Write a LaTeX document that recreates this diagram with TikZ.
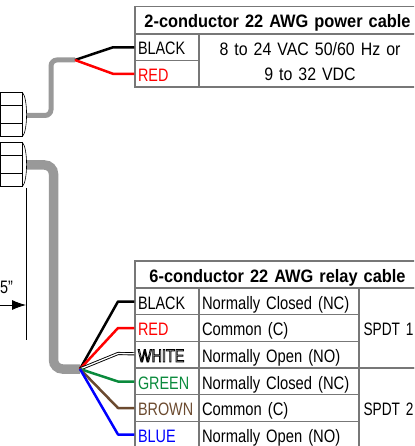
\documentclass[tikz,border=0pt]{standalone}
\usepackage{fontspec}
\setmainfont[FakeStretch=0.8, WordSpace=0.8, BoldFeatures={FakeStretch=0.91}]{Liberation Sans}
\usetikzlibrary{arrows.meta}
\definecolor{framegray}{HTML}{777777}
\definecolor{cablegray}{HTML}{999999}
\definecolor{wiregreen}{HTML}{0A8A3C}
\definecolor{wirebrown}{HTML}{6B4A2F}
\newcommand{\outlined}[1]{\special{pdf:code 1 1 1 rg 0 0 0 RG 0.8 w 2 Tr}#1\special{pdf:code 0 Tr 0 0 0 rg 0 0 0 RG}}

\begin{document}
\begin{tikzpicture}
	[x=1pt, y=-1pt,
	cell/.style ={rectangle, draw=framegray, line width=1.3pt, inner xsep=3pt, inner ysep=0pt, text height=15pt, text depth=0pt, font=\fontsize{18}{24.5}\selectfont, align=left},
	head/.style ={cell, text width=279pt, minimum height=27pt, align=center, font=\fontsize{18}{20}\selectfont\bfseries},
	wirename/.style ={cell, text width=58pt, minimum height=26.5pt},
	signal/.style ={cell, text width=154pt, minimum height=26.5pt, font=\fontsize{18}{24.5}\selectfont\addfontfeature{FakeStretch=0.82}},
	volts/.style ={cell, text width=215pt, text depth=24pt, minimum height=53pt, align=center, font=\fontsize{18}{24.5}\selectfont\addfontfeature{FakeStretch=0.885}},
	relay/.style ={cell, inner xsep=4.5pt, text width=52pt, minimum height=80pt, font=\fontsize{18}{24.5}\selectfont\addfontfeature{FakeStretch=0.76}},
	gland/.style ={rectangle, draw, semithick, minimum width=22pt, minimum height=44pt, inner sep=0pt},
	cable/.style ={draw=cablegray, rounded corners=6pt},
	wire/.style ={line width=2.5pt, line join=round}]
	\clip (0, 0) rectangle (414, 446);
	% power cable table
	\draw (277.5, 20) node[head] (powerhead) {2-conductor 22 AWG power cable};
	\draw (167, 47.3) node[wirename] (pblack) {BLACK};
	\draw (167, 73.8) node[wirename, text=red] (pred) {RED};
	\draw (310, 60.5) node[volts] (pvolts) {8 to 24 VAC 50/60 Hz or\\9 to 32 VDC};
	% relay cable table
	\draw (277.5, 274.5) node[head] (relayhead) {6-conductor 22 AWG relay cable};
	\draw (167, 301.5) node[wirename] (rblack) {BLACK};
	\draw (167, 328) node[wirename, text=red] (rred) {RED};
	\draw (167, 354.5) node[wirename] (rwhite) {\outlined{WHITE}};
	\draw (167, 381.5) node[wirename, text=wiregreen] (rgreen) {GREEN};
	\draw (167, 408) node[wirename, text=wirebrown] (rbrown) {BROWN};
	\draw (167, 434.5) node[wirename, text=blue] (rblue) {BLUE};
	\draw (279, 301.5) node[signal] (nc1) {Normally Closed (NC)};
	\draw (279, 328) node[signal] (com1) {Common (C)};
	\draw (279, 354.5) node[signal] (no1) {Normally Open (NO)};
	\draw (279, 381.5) node[signal] (nc2) {Normally Closed (NC)};
	\draw (279, 408) node[signal] (com2) {Common (C)};
	\draw (279, 434.5) node[signal] (no2) {Normally Open (NO)};
	\draw (389.5, 328) node[relay] (spdt1) {\mbox{SPDT 1}};
	\draw (389.5, 408) node[relay] (spdt2) {\mbox{SPDT 2}};
	% glands
	\draw (11, 114.5) node[gland] (gland1) {};
	\draw (11, 164.5) node[gland] (gland2) {};
	\draw[semithick] (gland1.north east) .. controls (28, 98) and (28, 131) .. (gland1.south east);
	\draw[semithick] (gland2.north east) .. controls (28, 148) and (28, 181) .. (gland2.south east);
	\draw[semithick] (0, 105) -- (22, 105);
	\draw[semithick] (0, 123) -- (22, 123);
	\draw[semithick] (0, 155) -- (22, 155);
	\draw[semithick] (0, 173) -- (22, 173);
	% cables
	\coordinate (end1) at (27, 115.5);
	\coordinate (end2) at (27, 165);
	\coordinate (fan1) at (75, 60);
	\coordinate (fan2) at (80, 369);
	\draw[cable, line width=5pt] (end1) -- (51, 115.5) -- (51, 60) -- (fan1);
	\draw[cable, line width=9.5pt, rounded corners=9pt] (end2) -- (53.5, 165) -- (53.5, 369) -- (fan2);
	% wires
	\draw[wire] (fan1) -- (113, 47.3) -- (pblack);
	\draw[wire, red] (fan1) -- (113, 73.8) -- (pred);
	\draw[wire] (fan2) -- (118, 301.5) -- (rblack);
	\draw[wire, red] (fan2) -- (118, 328) -- (rred);
	\draw[wire, line width=0.9pt, double=white, double distance=1.3pt] (fan2) -- (118, 353.5) -- (rwhite);
	\draw[wire, wiregreen] (fan2) -- (118, 381.5) -- (rgreen);
	\draw[wire, wirebrown] (fan2) -- (118, 408) -- (rbrown);
	\draw[wire, blue] (fan2) -- (118, 434.5) -- (rblue);
	% dimension
	\coordinate (dimtop) at (26.5, 188);
	\coordinate (dimbot) at (26.5, 340);
	\coordinate (dimtail) at (0, 305);
	\coordinate (dimtip) at (26, 305);
	\draw (dimtop) -- (dimbot);
	\draw[-{Latex[length=14pt,width=10pt]}, thick] (dimtail) -- (dimtip);
	\draw (6.5, 287) node[font=\fontsize{18}{20}\selectfont, inner sep=0pt] (dimlabel) {5"};
	\end{tikzpicture}
\end{document}
